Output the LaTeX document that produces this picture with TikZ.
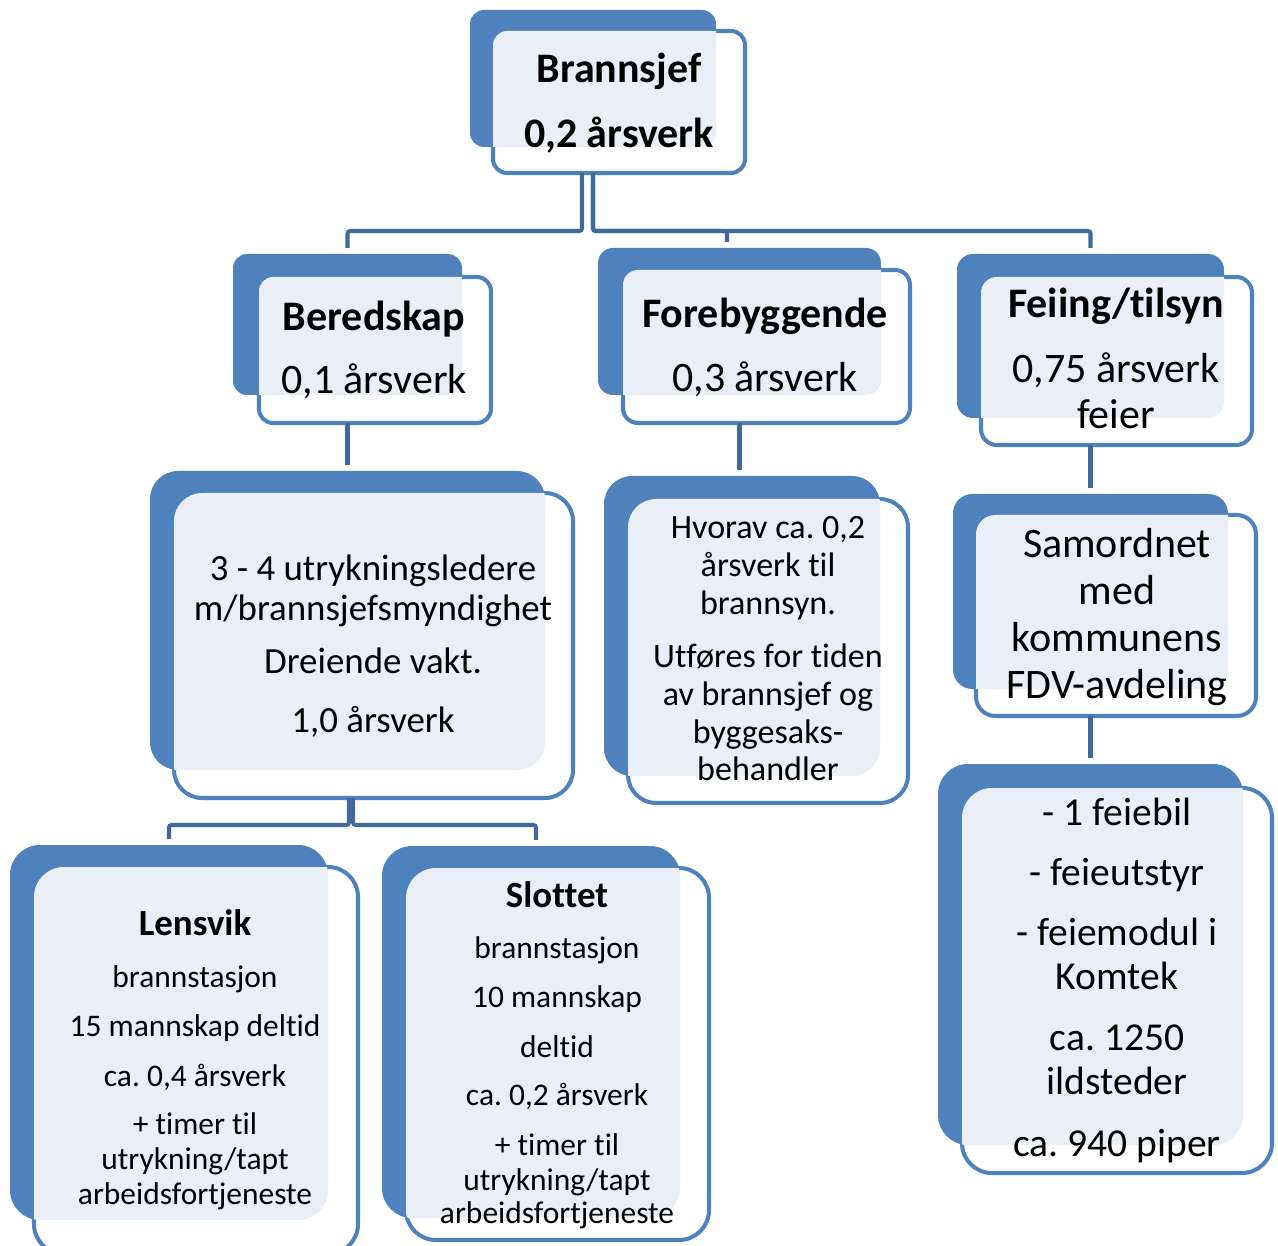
\documentclass[tikz,border=0pt]{standalone}
\usepackage{fontspec}
\setmainfont{Carlito}[Ligatures=NoCommon]
\frenchspacing
\usetikzlibrary{fit,positioning}
\definecolor{backblue}{RGB}{79,129,189}
\definecolor{paleblue}{RGB}{234,239,247}
\definecolor{linkblue}{RGB}{65,104,155}
% back plate, front card and the pale overlap of the two
\newcommand{\orgbox}[4]{%
  \node[backbox, rounded corners=#4, fit={#2}] (#1) {};
  \node[frontbox, rounded corners=#4, fit={#3}] (#1-f) {};
  \begin{scope}
    \clip[rounded corners=#4] (#1.south west) rectangle (#1.north east);
    \fill[paleblue, rounded corners=#4] (#1-f.south west) rectangle (#1-f.north east);
  \end{scope}}
\newcommand{\firstline}{\rule{0pt}{20pt}}

\begin{document}
\begin{tikzpicture}[x=0.02cm,y=-0.02cm,
  backbox/.style={fill=backblue,inner sep=0pt,outer sep=0pt},
  frontbox/.style={draw=backblue,line width=2.3pt,fill=white,inner sep=0pt,outer sep=0pt},
  txt/.style={align=center,inner sep=0pt,anchor=north,yshift=20pt},
  link/.style={draw=linkblue,line width=2.3pt,rounded corners=1.5pt,shorten >=3.5pt}]
\useasboundingbox (0,0) rectangle (1278,1246);

\orgbox{sjef}{(470,10) (716,147)}{(493,31) (745,173)}{8pt}
\orgbox{bered}{(233,254) (462,395)}{(259,277) (491,423)}{8pt}
\orgbox{forebygg}{(598,248) (881,395)}{(623,270) (910,423)}{8.5pt}
\orgbox{feie}{(957,254) (1224,418)}{(981,277) (1252,445)}{9pt}
\orgbox{leder}{(150,471) (545,770)}{(174,493) (573,798)}{16pt}
\orgbox{hvorav}{(604,476) (880,776)}{(628,499) (908,803)}{16pt}
\orgbox{samord}{(953,494) (1228,689)}{(976,515) (1256,716)}{11pt}
\orgbox{feiebil}{(938,764) (1243,1145)}{(962,788) (1272,1173)}{17pt}
\orgbox{lensvik}{(10,845) (328,1220)}{(34,867) (358,1254)}{17pt}
\orgbox{slottet}{(382,846) (680,1218)}{(406,868) (709,1240)}{17pt}

\node[txt,font=\bfseries\fontsize{23.9}{26.2}\selectfont] (sjef-t) at (619,82)
  {\firstline Brannsjef\\[10.8pt]0,2 årsverk};
\node[txt,font=\fontsize{23.9}{26.2}\selectfont] (bered-t) at (374,330)
  {\firstline\textbf{Beredskap}\\[9.7pt]0,1 årsverk};
\node[txt,font=\fontsize{23.9}{26.2}\selectfont] (forebygg-t) at (765,327)
  {\firstline\textbf{Forebyggende}\\[10.2pt]0,3 årsverk};
\node[txt,font=\fontsize{23.9}{26.2}\selectfont] (feie-t) at (1116,317)
  {\firstline\textbf{Feiing/tilsyn}\\[10.8pt]0,75 årsverk\\feier};
\node[txt,font=\fontsize{23.9}{26.7}\selectfont] (samord-t) at (1117,557)
  {\firstline Samordnet\\med\\kommunens\\FDV-avdeling};
\node[txt,font=\fontsize{21}{22.8}\selectfont] (leder-t) at (373,580)
  {\firstline 3 - 4 utrykningsledere\\m/brannsjefsmyndighet\\[7.4pt]Dreiende vakt.\\[10.8pt]1,0 årsverk};
\node[txt,font=\fontsize{19.4}{21.6}\selectfont] (hvorav-t) at (768,538)
  {\firstline Hvorav ca. 0,2\\årsverk til\\brannsyn.\\[8.5pt]Utføres for tiden\\av brannsjef og\\byggesaks-\\behandler};
\node[txt,font=\fontsize{22.5}{25}\selectfont] (feiebil-t) at (1117,825)
  {\firstline - 1 feiebil\\[9.1pt]- feieutstyr\\[9.1pt]- feiemodul i\\Komtek\\[10pt]ca. 1250\\ildsteder\\[10.4pt]ca. 940 piper};
\node[txt,font=\fontsize{17.9}{19.9}\selectfont] (lensvik-t) at (195,935)
  {\firstline{\fontsize{21}{19.9}\selectfont\bfseries Lensvik}\\[9.7pt]brannstasjon\\[8pt]15 mannskap deltid\\[8.5pt]ca. 0,4 årsverk\\[7.4pt]+ timer til\\utrykning/tapt\\arbeidsfortjeneste};
\node[txt,font=\fontsize{17.9}{19.9}\selectfont] (slottet-t) at (557,907)
  {\firstline{\fontsize{21}{19.9}\selectfont\bfseries Slottet}\\[9.1pt]brannstasjon\\[8pt]10 mannskap\\[8.5pt]deltid\\[7.4pt]ca. 0,2 årsverk\\[8.5pt]+ timer til\\utrykning/tapt\\[-1pt]arbeidsfortjeneste};

% connectors
\coordinate (bus) at (0,231);
\coordinate (bus2) at (0,825);
\coordinate (fb-drop) at ([xshift=-0.25cm]forebygg.north);
\coordinate (sl-drop) at ([xshift=0.1cm]slottet.north);
\draw[link] ([xshift=-0.22cm]sjef.center |- sjef-f.south) |- (bus -| bered.north) -- (bered.north);
\draw[link] (sjef.center |- sjef-f.south) |- (bus -| fb-drop) -- (fb-drop);
\draw[link] (sjef.center |- sjef-f.south) |- (bus -| feie.north) -- (feie.north);
\draw[link] (bered.center |- bered-f.south) -- (leder.north);
\draw[link] (forebygg.center |- forebygg-f.south) -- (forebygg.center |- hvorav.north);
\draw[link] (feie.center |- feie-f.south) -- (samord.north);
\draw[link] (samord.center |- samord-f.south) -- (feiebil.north);
\draw[link] ([xshift=0.03cm]leder.center |- leder-f.south) |- (bus2 -| lensvik.north) -- (lensvik.north);
\draw[link] ([xshift=0.11cm]leder.center |- leder-f.south) |- (bus2 -| sl-drop) -- (sl-drop);
\end{tikzpicture}
\end{document}
